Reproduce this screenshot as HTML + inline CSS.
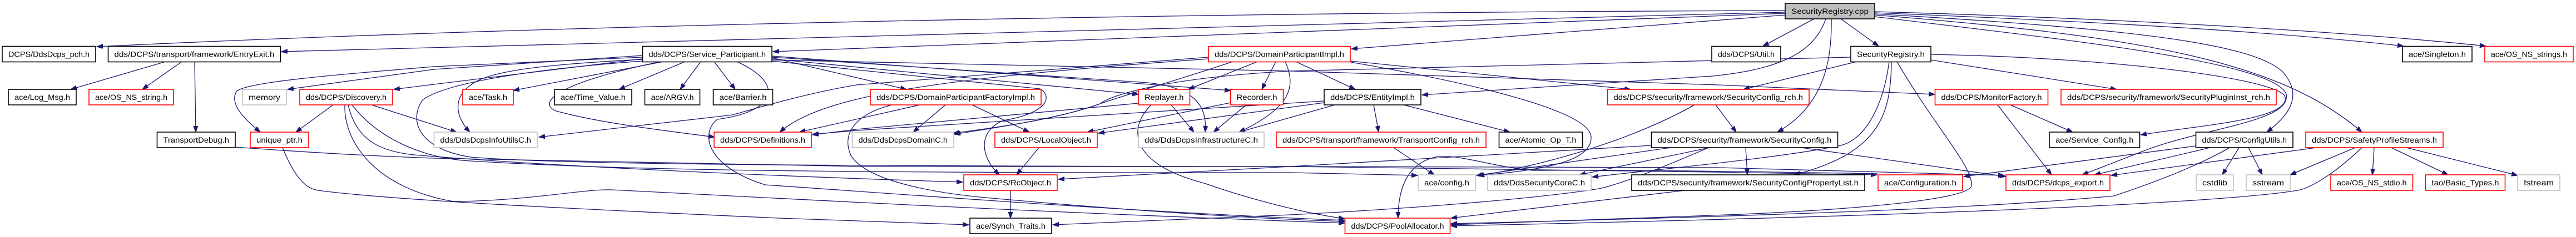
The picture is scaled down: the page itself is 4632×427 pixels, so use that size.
<!DOCTYPE html>
<html><head><meta charset="utf-8"><style>
html,body{margin:0;padding:0;background:#fff;}
svg{display:block;}
.e path{fill:none;stroke:#191970;stroke-width:1.3;marker-end:url(#a);}
.e path.nm{marker-end:none;}
.n rect{fill:#fff;stroke-width:1.6;}
.k{stroke:#000;}
.r{stroke:#ff0000;}
.g{stroke:#bfbfbf;}
text{font-family:"Liberation Sans",Arial,sans-serif;font-size:14px;fill:#000;text-anchor:middle;}
</style></head><body>
<svg width="4632" height="427" viewBox="0 0 4632 427" xmlns="http://www.w3.org/2000/svg">
<defs><marker id="a" markerWidth="12" markerHeight="9" refX="11" refY="4" orient="auto" markerUnits="userSpaceOnUse"><path d="M0,0 L11,4 L0,8 z" fill="#191970" stroke="#191970" stroke-width="1"/></marker></defs>
<g class="e">
<path d="M3210,19 C2500,21 1200,35 174,84"/>
<path d="M3210,22 L506,93"/>
<path d="M3210,24 L1390,93"/>
<path d="M3210,27 L2430,88"/>
<path d="M3262,34 L3170,83"/>
<path d="M3310,34 L3378,83"/>
<path d="M3293,34 C3294,110 3280,190 3196,238"/>
<path d="M3283,34 C3262,95 3200,125 3080,137 L2557,171"/>
<path d="M3371,21 C3800,33 4200,55 4470,83"/>
<path d="M3371,23 C3800,40 4100,58 4322,83"/>
<path d="M3371,25 C3800,50 4050,75 4105,130 C4140,170 4120,205 4076,238"/>
<path d="M3371,27 C3850,65 4100,110 4247,238"/>
<path d="M3371,30 C3700,70 4090,110 4111,170 C4120,220 3960,230 3852,273 L3744,315"/>
<path d="M3339,111 L3135,161"/>
<path d="M3472,108 L3806,161"/>
<path d="M3472,98 C3800,104 4080,140 4108,172 C4125,215 3960,225 3849,243"/>
<path d="M3328,103 L2320,128 C2100,140 2000,170 1978,187 C1900,215 1800,228 1716,242"/>
<path d="M3397,111 C3385,200 3350,252 3310,262 C3200,285 2980,305 2863,319"/>
<path class="nm" d="M3376,313 C3100,308 2900,306 2756,307"/>
<path d="M2756,307 C2680,300 2620,276 2581,283 C2530,295 2514,340 2514,393"/>
<path d="M3401,111 C3400,200 3385,275 3226,315"/>
<path d="M3411,111 C3480,230 3548,300 3545,335 C3538,362 3300,380 3080,388 L2609,405"/>
<path d="M3085,189 L3122,238"/>
<path d="M3047,189 C2920,260 2760,300 2658,317"/>
<path d="M3139,266 L3142,315"/>
<path d="M3239,266 L3607,318"/>
<path d="M3004,266 L2655,316"/>
<path d="M3074,266 L2840,315"/>
<path d="M2970,262 L2320,300 L1903,323"/>
<path d="M3072,266 C2960,315 2900,335 2875,340 C2750,360 2500,378 2320,387 L1893,405"/>
<path d="M3030,343 L2609,393"/>
<path d="M3592,189 L3689,315"/>
<path d="M3615,189 L3727,238"/>
<path d="M4026,266 L3996,315"/>
<path d="M4043,266 L4068,315"/>
<path d="M3948,263 L3531,318"/>
<path d="M3974,266 L3766,315"/>
<path d="M4009,266 C3950,300 3870,330 3801,353 C3600,372 3300,386 2609,403"/>
<path d="M4235,266 L4118,315"/>
<path d="M4269,266 L4266,315"/>
<path d="M4300,266 L4402,315"/>
<path d="M4327,266 L4527,316"/>
<path d="M4165,266 L3796,316"/>
<path d="M4247,266 C4190,320 4150,340 4131,343 C4000,365 3500,388 2609,407"/>
<path d="M2330,111 L2437,161"/>
<path d="M2429,110 L2932,161"/>
<path d="M2429,112 C2650,150 2860,200 2861,247 C2862,285 2800,305 2658,316"/>
<path d="M2261,111 L2137,161"/>
<path d="M2294,111 L2269,161"/>
<path d="M2217,111 C2100,150 2010,175 1978,187 C1900,215 1790,230 1714,240"/>
<path d="M2311,111 C2328,150 2330,190 2228,238"/>
<path d="M2173,103 L1540,153 C1450,168 1360,195 1317,207 L969,247"/>
<path d="M2173,106 C1700,140 1480,170 1402,238"/>
<path d="M2470,189 L2479,238"/>
<path d="M2524,189 L2715,238"/>
<path d="M2381,185 L1975,240"/>
<path d="M2381,182 L1540,235 L1461,242"/>
<path d="M2400,189 L2228,238"/>
<path d="M2506,266 L2579,315"/>
<path d="M1700,189 L1642,238"/>
<path d="M1748,189 L1851,238"/>
<path d="M1654,189 L1437,238"/>
<path d="M1604,189 C1540,205 1512,240 1530,280 C1560,330 1700,350 1783,357 C1950,372 2200,392 2418,399"/>
<path d="M2106,189 L2147,238"/>
<path d="M2047,186 L1540,233 L1461,243"/>
<path d="M2070,189 C2028,230 2030,295 2165,330 C2250,360 2350,385 2418,394"/>
<path d="M2213,185 L1955,238"/>
<path d="M2241,189 L2182,238"/>
<path d="M1868,266 L1828,315"/>
<path d="M1817,343 L1817,393"/>
<path d="M1155,100 L780,125 L517,161"/>
<path d="M1155,103 L780,120 C600,135 440,148 425,165 C412,188 440,215 468,238"/>
<path d="M1155,106 L780,152 L708,161"/>
<path d="M1155,107 C1000,115 900,125 860,145 C810,170 818,210 845,238"/>
<path d="M1193,111 L923,163"/>
<path d="M1232,111 L1113,161"/>
<path d="M1260,111 L1223,161"/>
<path d="M1284,111 L1322,161"/>
<path d="M1188,111 C1000,150 965,185 1000,200 C1080,222 1200,236 1285,247"/>
<path d="M1388,104 L1630,161"/>
<path d="M1388,106 L2047,170"/>
<path d="M1388,101 L2213,163"/>
<path d="M1388,103 L2050,148 C2160,155 2170,200 2167,238"/>
<path d="M1388,108 L2320,128 L3090,153 L3479,170"/>
<path d="M1388,110 L1870,160 C1895,175 1880,205 1804,217 C1760,235 1760,280 1797,315"/>
<path d="M1325,111 C1410,150 1400,200 1290,215 C1258,240 1270,300 1376,333 C1600,348 2000,380 2418,397"/>
<path d="M1155,110 C950,125 800,150 760,180 C735,215 750,268 846,283 C1000,296 1400,299 2320,300 L3080,310 L3375,315"/>
<path d="M599,189 L532,238"/>
<path d="M668,189 L821,238"/>
<path d="M620,189 C618,260 680,340 815,363 C950,362 1050,340 1101,342 C1400,357 1800,380 2418,402"/>
<path d="M626,189 C640,250 680,275 757,280 C1000,300 1400,318 1731,328"/>
<path d="M633,189 C680,250 760,285 846,290 C1100,305 1400,312 2320,311 L2549,316"/>
<path d="M423,265 C600,278 700,282 780,285 L1550,300 L2320,300 L3090,302 L3604,316"/>
<path d="M508,266 C530,320 550,340 572,343 C700,360 1000,375 1400,393 L1742,405"/>
<path d="M298,111 L127,161"/>
<path d="M327,111 L256,161"/>
<path d="M350,111 L352,238"/>
</g>
<g class="n">
<rect x="3210" y="6" width="161" height="28" class="k" style="fill:#bfbfbf"/><text x="3290.5" y="25" textLength="139" lengthAdjust="spacingAndGlyphs">SecurityRegistry.cpp</text>

<rect x="4" y="83.5" width="168" height="28" class="k"/><text x="88" y="102.5" textLength="146" lengthAdjust="spacingAndGlyphs">DCPS/DdsDcps_pch.h</text>
<rect x="194.5" y="83.5" width="310" height="28" class="k"/><text x="349.5" y="102.5" textLength="288" lengthAdjust="spacingAndGlyphs">dds/DCPS/transport/framework/EntryExit.h</text>
<rect x="1155.5" y="83.5" width="232.5" height="28" class="k"/><text x="1271.75" y="102.5" textLength="210.5" lengthAdjust="spacingAndGlyphs">dds/DCPS/Service_Participant.h</text>
<rect x="2173" y="83.5" width="255" height="28" class="r"/><text x="2300.5" y="102.5" textLength="233" lengthAdjust="spacingAndGlyphs">dds/DCPS/DomainParticipantImpl.h</text>
<rect x="3078" y="83.5" width="124" height="28" class="k"/><text x="3140" y="102.5" textLength="102" lengthAdjust="spacingAndGlyphs">dds/DCPS/Util.h</text>
<rect x="3328" y="83.5" width="144" height="28" class="k"/><text x="3400" y="102.5" textLength="122" lengthAdjust="spacingAndGlyphs">SecurityRegistry.h</text>
<rect x="4320" y="83.5" width="125" height="28" class="k"/><text x="4382.5" y="102.5" textLength="103" lengthAdjust="spacingAndGlyphs">ace/Singleton.h</text>
<rect x="4468" y="83.5" width="159" height="28" class="r"/><text x="4547.5" y="102.5" textLength="137" lengthAdjust="spacingAndGlyphs">ace/OS_NS_strings.h</text>

<rect x="15" y="161" width="122" height="28" class="k"/><text x="76" y="180" textLength="100" lengthAdjust="spacingAndGlyphs">ace/Log_Msg.h</text>
<rect x="160" y="161" width="152" height="28" class="r"/><text x="236" y="180" textLength="130" lengthAdjust="spacingAndGlyphs">ace/OS_NS_string.h</text>
<rect x="436" y="161" width="79" height="28" class="g"/><text x="475.5" y="180" textLength="57" lengthAdjust="spacingAndGlyphs">memory</text>
<rect x="539" y="161" width="167" height="28" class="r"/><text x="622.5" y="180" textLength="145" lengthAdjust="spacingAndGlyphs">dds/DCPS/Discovery.h</text>
<rect x="832" y="161" width="91" height="28" class="r"/><text x="877.5" y="180" textLength="69" lengthAdjust="spacingAndGlyphs">ace/Task.h</text>
<rect x="997" y="161" width="139" height="28" class="k"/><text x="1066.5" y="180" textLength="117" lengthAdjust="spacingAndGlyphs">ace/Time_Value.h</text>
<rect x="1159.5" y="161" width="99" height="28" class="k"/><text x="1209" y="180" textLength="77" lengthAdjust="spacingAndGlyphs">ace/ARGV.h</text>
<rect x="1282.5" y="161" width="107" height="28" class="k"/><text x="1336" y="180" textLength="85" lengthAdjust="spacingAndGlyphs">ace/Barrier.h</text>
<rect x="1565" y="161" width="307" height="28" class="r"/><text x="1718.5" y="180" textLength="285" lengthAdjust="spacingAndGlyphs">dds/DCPS/DomainParticipantFactoryImpl.h</text>
<rect x="2047" y="161" width="92.5" height="28" class="r"/><text x="2093.25" y="180" textLength="70.5" lengthAdjust="spacingAndGlyphs">Replayer.h</text>
<rect x="2212.5" y="161" width="95" height="28" class="r"/><text x="2260" y="180" textLength="73" lengthAdjust="spacingAndGlyphs">Recorder.h</text>
<rect x="2381" y="161" width="174" height="28" class="k"/><text x="2468" y="180" textLength="152" lengthAdjust="spacingAndGlyphs">dds/DCPS/EntityImpl.h</text>
<rect x="2890.5" y="161" width="362.5" height="28" class="r"/><text x="3071.75" y="180" textLength="340.5" lengthAdjust="spacingAndGlyphs">dds/DCPS/security/framework/SecurityConfig_rch.h</text>
<rect x="3479.5" y="161" width="203" height="28" class="r"/><text x="3581" y="180" textLength="181" lengthAdjust="spacingAndGlyphs">dds/DCPS/MonitorFactory.h</text>
<rect x="3706" y="161" width="387" height="28" class="r"/><text x="3899.5" y="180" textLength="365" lengthAdjust="spacingAndGlyphs">dds/DCPS/security/framework/SecurityPluginInst_rch.h</text>

<rect x="282.5" y="238" width="140.5" height="28" class="k"/><text x="352.75" y="257" textLength="118.5" lengthAdjust="spacingAndGlyphs">TransportDebug.h</text>
<rect x="450" y="238" width="105" height="28" class="r"/><text x="502.5" y="257" textLength="83" lengthAdjust="spacingAndGlyphs">unique_ptr.h</text>
<rect x="780.5" y="238" width="185.5" height="28" class="g"/><text x="873.25" y="257" textLength="163.5" lengthAdjust="spacingAndGlyphs">dds/DdsDcpsInfoUtilsC.h</text>
<rect x="1284" y="238" width="175" height="28" class="r"/><text x="1371.5" y="257" textLength="153" lengthAdjust="spacingAndGlyphs">dds/DCPS/Definitions.h</text>
<rect x="1532.5" y="238" width="182.5" height="28" class="g"/><text x="1623.75" y="257" textLength="160.5" lengthAdjust="spacingAndGlyphs">dds/DdsDcpsDomainC.h</text>
<rect x="1789" y="238" width="184" height="28" class="r"/><text x="1881" y="257" textLength="162" lengthAdjust="spacingAndGlyphs">dds/DCPS/LocalObject.h</text>
<rect x="2047" y="238" width="226" height="28" class="g"/><text x="2160" y="257" textLength="204" lengthAdjust="spacingAndGlyphs">dds/DdsDcpsInfrastructureC.h</text>
<rect x="2295" y="238" width="377" height="28" class="r"/><text x="2483.5" y="257" textLength="355" lengthAdjust="spacingAndGlyphs">dds/DCPS/transport/framework/TransportConfig_rch.h</text>
<rect x="2695.5" y="238" width="150" height="28" class="k"/><text x="2770.5" y="257" textLength="128" lengthAdjust="spacingAndGlyphs">ace/Atomic_Op_T.h</text>
<rect x="2969.5" y="238" width="335" height="28" class="k"/><text x="3137" y="257" textLength="313" lengthAdjust="spacingAndGlyphs">dds/DCPS/security/framework/SecurityConfig.h</text>
<rect x="3685" y="238" width="162.5" height="28" class="k"/><text x="3766.25" y="257" textLength="140.5" lengthAdjust="spacingAndGlyphs">ace/Service_Config.h</text>
<rect x="3948.5" y="238" width="174.5" height="28" class="k"/><text x="4035.75" y="257" textLength="152.5" lengthAdjust="spacingAndGlyphs">dds/DCPS/ConfigUtils.h</text>
<rect x="4146" y="238" width="247" height="28" class="r"/><text x="4269.5" y="257" textLength="225" lengthAdjust="spacingAndGlyphs">dds/DCPS/SafetyProfileStreams.h</text>

<rect x="1733" y="315" width="168" height="28" class="r"/><text x="1817" y="334" textLength="146" lengthAdjust="spacingAndGlyphs">dds/DCPS/RcObject.h</text>
<rect x="2550" y="315" width="103" height="28" class="g"/><text x="2601.5" y="334" textLength="81" lengthAdjust="spacingAndGlyphs">ace/config.h</text>
<rect x="2675" y="315" width="186" height="28" class="g"/><text x="2768" y="334" textLength="164" lengthAdjust="spacingAndGlyphs">dds/DdsSecurityCoreC.h</text>
<rect x="2934" y="315" width="419" height="28" class="k"/><text x="3143.5" y="334" textLength="397" lengthAdjust="spacingAndGlyphs">dds/DCPS/security/framework/SecurityConfigPropertyList.h</text>
<rect x="3377" y="315" width="152" height="28" class="r"/><text x="3453" y="334" textLength="130" lengthAdjust="spacingAndGlyphs">ace/Configuration.h</text>
<rect x="3607" y="315" width="187" height="28" class="r"/><text x="3700.5" y="334" textLength="165" lengthAdjust="spacingAndGlyphs">dds/DCPS/dcps_export.h</text>
<rect x="3949" y="315" width="67" height="28" class="g"/><text x="3982.5" y="334" textLength="45" lengthAdjust="spacingAndGlyphs">cstdlib</text>
<rect x="4039" y="315" width="79" height="28" class="g"/><text x="4078.5" y="334" textLength="57" lengthAdjust="spacingAndGlyphs">sstream</text>
<rect x="4191" y="315" width="147.5" height="28" class="r"/><text x="4264.75" y="334" textLength="125.5" lengthAdjust="spacingAndGlyphs">ace/OS_NS_stdio.h</text>
<rect x="4361.5" y="315" width="143" height="28" class="r"/><text x="4433" y="334" textLength="121" lengthAdjust="spacingAndGlyphs">tao/Basic_Types.h</text>
<rect x="4527" y="315" width="76" height="28" class="g"/><text x="4565" y="334" textLength="54" lengthAdjust="spacingAndGlyphs">fstream</text>

<rect x="1744" y="393" width="147" height="28" class="k"/><text x="1817.5" y="412" textLength="125" lengthAdjust="spacingAndGlyphs">ace/Synch_Traits.h</text>
<rect x="2418.5" y="393" width="189" height="28" class="r"/><text x="2513" y="412" textLength="167" lengthAdjust="spacingAndGlyphs">dds/DCPS/PoolAllocator.h</text>
</g>
</svg>
</body></html>
